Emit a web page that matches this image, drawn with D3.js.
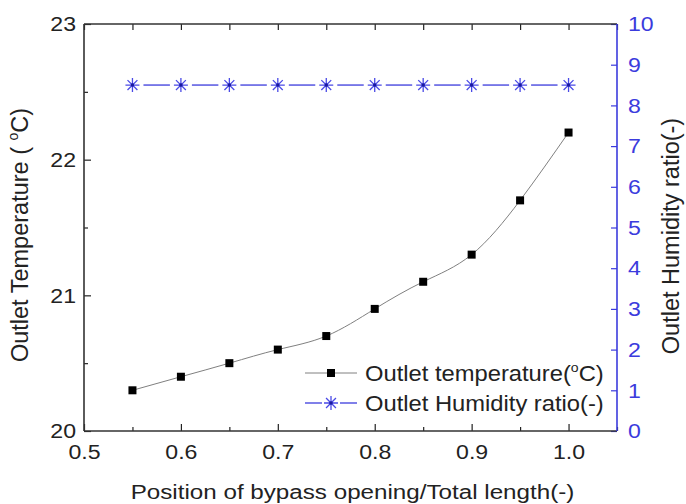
<!DOCTYPE html>
<html lang="en">
<head>
<meta charset="UTF-8">
<script src="https://d3js.org/d3.v7.min.js"></script>
<title>Outlet temperature and humidity vs bypass position</title>
<style>
    body { margin: 0; background: #fff; }
    text { font-family: "Liberation Sans", Arial, sans-serif; }
    .temp-line { fill: none; stroke: #808080; stroke-width: 1; }
    .hum-line { stroke: #3b3bdd; stroke-width: 1.3; }
</style>
</head>
<body>
<div class="graph"></div>
<script>
    // data
    var positions = [0.55, 0.6, 0.65, 0.7, 0.75, 0.8, 0.85, 0.9, 0.95, 1.0];
    var temperature = [20.3, 20.4, 20.5, 20.6, 20.7, 20.9, 21.1, 21.3, 21.7, 22.2];
    var humidity = [8.5, 8.5, 8.5, 8.5, 8.5, 8.5, 8.5, 8.5, 8.5, 8.5];
    var xTicks = [0.5, 0.6, 0.7, 0.8, 0.9, 1.0];
    var xMinor = [0.55, 0.65, 0.75, 0.85, 0.95, 1.05];
    var yTicks = [20, 21, 22, 23];
    var yMinor = [20.5, 21.5, 22.5];
    var y2Ticks = [0, 1, 2, 3, 4, 5, 6, 7, 8, 9, 10];

    var W = 686, H = 504;
    var margin = { top: 24, right: 69, bottom: 73, left: 84 },
        width = W - margin.left - margin.right,
        height = H - margin.top - margin.bottom;

    var blue = "#3b3bdd";
    var sx = 1.1; // the reference text looks a bit stretched sideways

    var x = d3.scaleLinear().domain([0.5, 1.05]).range([0, width]);
    var y = d3.scaleLinear().domain([20, 23]).range([height, 0]);
    var y2 = d3.scaleLinear().domain([0, 10]).range([height, 0]);

    var svg = d3.select(".graph").append("svg")
        .attr("width", W).attr("height", H)
        .append("g")
        .attr("transform", "translate(" + margin.left + "," + margin.top + ")");

    function style(g, color) {
        g.select(".domain").remove();
        g.selectAll("line").attr("stroke", color).attr("stroke-width", 1.2);
        g.selectAll("text").attr("fill", color).style("font-size", "21px")
            .attr("transform", "scale(" + sx + ",1)")
            .attr("x", function () { return +d3.select(this).attr("x") / sx; });
    }

    // bottom axis, ticks pointing inward
    svg.append("g").attr("transform", "translate(0," + height + ")")
        .call(d3.axisBottom(x).tickValues(xTicks).tickFormat(d3.format(".1f"))
            .tickSizeInner(-7).tickSizeOuter(0).tickPadding(13))
        .call(style, "#222");
    svg.append("g").attr("transform", "translate(0," + height + ")")
        .call(d3.axisBottom(x).tickValues(xMinor).tickFormat("").tickSizeInner(-4).tickSizeOuter(0))
        .call(style, "#222");

    // top axis
    svg.append("g")
        .call(d3.axisTop(x).tickValues(xTicks.concat(xMinor)).tickFormat("").tickSizeInner(-6).tickSizeOuter(0))
        .call(style, "#222");

    // left axis
    svg.append("g")
        .call(d3.axisLeft(y).tickValues(yTicks).tickFormat(d3.format("d"))
            .tickSizeInner(-7).tickSizeOuter(0).tickPadding(8))
        .call(style, "#222");
    svg.append("g")
        .call(d3.axisLeft(y).tickValues(yMinor).tickFormat("").tickSizeInner(-4).tickSizeOuter(0))
        .call(style, "#222");

    // right axis (humidity)
    svg.append("g").attr("transform", "translate(" + width + ",0)")
        .call(d3.axisRight(y2).tickValues(y2Ticks).tickFormat(d3.format("d"))
            .tickSizeInner(-6).tickSizeOuter(0).tickPadding(11))
        .call(style, blue);

    // frame
    svg.append("line").attr("x1", 0).attr("x2", 0).attr("y1", 0).attr("y2", height)
        .attr("stroke", "#333").attr("stroke-width", 1.6);
    svg.append("line").attr("x1", 0).attr("x2", width).attr("y1", height).attr("y2", height)
        .attr("stroke", "#333").attr("stroke-width", 1.6);
    svg.append("line").attr("x1", 0).attr("x2", width).attr("y1", 0).attr("y2", 0)
        .attr("stroke", "#333").attr("stroke-width", 1.6);
    svg.append("line").attr("x1", width).attr("x2", width).attr("y1", 0).attr("y2", height)
        .attr("stroke", blue).attr("stroke-width", 1.6);

    // temperature curve
    var tempData = positions.map(function (p, i) { return [p, temperature[i]]; });
    var line = d3.line()
        .x(function (d) { return x(d[0]); })
        .y(function (d) { return y(d[1]); })
        .curve(d3.curveNatural);
    svg.append("path").datum(tempData).attr("class", "temp-line").attr("d", line);

    svg.selectAll(".sq").data(tempData).enter().append("rect")
        .attr("class", "sq")
        .attr("x", function (d) { return x(d[0]) - 4; })
        .attr("y", function (d) { return y(d[1]) - 4; })
        .attr("width", 8).attr("height", 8)
        .attr("fill", "#000");

    // humidity: segments with gaps round the markers
    var humData = positions.map(function (p, i) { return [p, humidity[i]]; });
    var gap = 11;
    svg.selectAll(".hseg").data(d3.pairs(humData)).enter().append("line")
        .attr("class", "hum-line")
        .attr("x1", function (d) { return x(d[0][0]) + gap; })
        .attr("x2", function (d) { return x(d[1][0]) - gap; })
        .attr("y1", function (d) { return y2(d[0][1]); })
        .attr("y2", function (d) { return y2(d[1][1]); });

    function star(g, r) {
        var a = r * Math.SQRT1_2;
        g.append("path")
            .attr("d", "M" + (-r) + ",0H" + r + "M0," + (-r) + "V" + r +
                "M" + (-a) + "," + (-a) + "L" + a + "," + a +
                "M" + (-a) + "," + a + "L" + a + "," + (-a))
            .attr("stroke", "#4a4ae6").attr("stroke-width", 1.3).attr("fill", "none");
        g.append("circle").attr("r", 1.7).attr("fill", "#1a1aa0");
    }

    svg.selectAll(".star").data(humData).enter().append("g")
        .attr("class", "star")
        .attr("transform", function (d) { return "translate(" + x(d[0]) + "," + y2(d[1]) + ")"; })
        .each(function () { star(d3.select(this), 7); });

    // legend
    var legend = svg.append("g").attr("transform", "translate(221,349)");
    legend.append("line").attr("x1", 0).attr("x2", 52).attr("y1", 0).attr("y2", 0)
        .attr("stroke", "#808080").attr("stroke-width", 1);
    legend.append("rect").attr("x", 22).attr("y", -4).attr("width", 8).attr("height", 8).attr("fill", "#000");
    var t1 = legend.append("text").attr("transform", "translate(60,8) scale(1.08,1)")
        .style("font-size", "22px").attr("fill", "#222");
    t1.append("tspan").text("Outlet temperature(");
    t1.append("tspan").attr("dy", -9).style("font-size", "13px").text("o");
    t1.append("tspan").attr("dy", 9).text("C)");

    var l2 = legend.append("g").attr("transform", "translate(0,30)");
    l2.append("line").attr("x1", 0).attr("x2", 17).attr("y1", 0).attr("y2", 0).attr("class", "hum-line");
    l2.append("line").attr("x1", 35).attr("x2", 52).attr("y1", 0).attr("y2", 0).attr("class", "hum-line");
    star(l2.append("g").attr("transform", "translate(26,0)"), 7);
    l2.append("text").attr("transform", "translate(60,8) scale(1.08,1)")
        .style("font-size", "22px").attr("fill", "#222")
        .text("Outlet Humidity ratio(-)");

    // axis titles
    svg.append("text")
        .attr("transform", "translate(" + (width / 2 + 2) + "," + (height + 68) + ") scale(1.21,1)")
        .attr("text-anchor", "middle").style("font-size", "20px").attr("fill", "#222")
        .text("Position of bypass opening/Total length(-)");

    var yl = svg.append("text")
        .style("font-size", "23.5px").attr("fill", "#222");
    yl.append("tspan").text("Outlet Temperature ( ");
    yl.append("tspan").attr("dy", -10).style("font-size", "14px").text("o");
    yl.append("tspan").attr("dy", 10).text("C)");
    var ylLen = yl.node().getComputedTextLength();
    yl.attr("transform", "translate(-56," + (211 + ylLen / 2) + ") rotate(-90)");

    svg.append("text")
        .attr("transform", "translate(" + (width + 62) + ",212) rotate(-90)")
        .attr("text-anchor", "middle").style("font-size", "23.5px").attr("fill", "#222")
        .text("Outlet Humidity ratio(-)");
</script>
</body>
</html>
